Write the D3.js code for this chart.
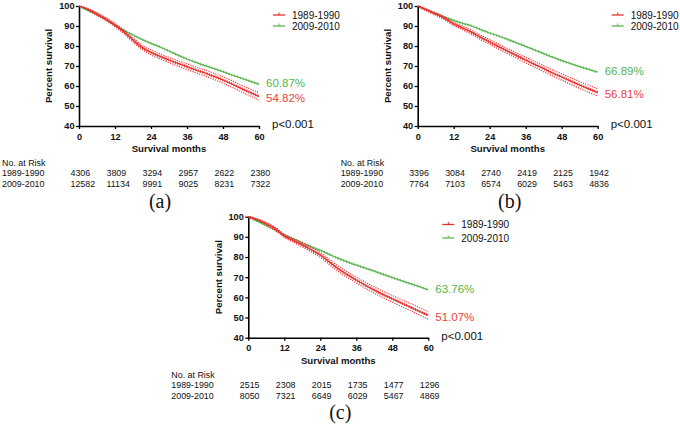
<!DOCTYPE html>
<html><head><meta charset="utf-8">
<script src="https://cdn.jsdelivr.net/npm/d3@7"></script>
<style>
body{margin:0;background:#fff}
svg{display:block}
</style>
</head><body>
<svg id="chart" width="680" height="425"></svg>
<script>
// ---------- data ----------
const months = [0,3,6,9,12,15,18,21,24,27,30,33,36,39,42,45,48,51,54,57,60];
const xTicks = [0,12,24,36,48,60];
const yTicks = [40,50,60,70,80,90,100];
const seriesNames = ["1989-1990","2009-2010"];
const riskTimes = [0,12,24,36,48,60];

// panel (a)
const redA   = [100,98.3,96,93.5,90.5,87,83,79.3,76.8,74.8,73,71.3,69.7,68,66.5,64.8,63,61,58.8,56.8,54.82];
const greenA = [100,97.8,95.5,93,90.3,87.8,85.5,83.3,81.3,79.5,77.5,75.4,73.5,71.8,70.2,68.7,67.2,65.5,64,62.4,60.87];
const ciA    = [0,0.35,0.6,0.7,0.8,0.9,1.0,1.1,1.2,1.25,1.3,1.35,1.4,1.45,1.5,1.55,1.6,1.65,1.7,1.75,1.8];
const riskA1989 = [4306,3809,3294,2957,2622,2380];
const riskA2009 = [12582,11134,9991,9025,8231,7322];
const endA = ["54.82%","60.87%"];

// panel (b)
const redB   = [100,98,96,93.8,91,89,86.8,84.3,82,79.7,77.4,75.2,73,70.8,68.7,66.5,64.5,62.5,60.5,58.6,56.81];
const greenB = [100,98,96.2,94.5,92.8,91.3,90,88.2,86.5,85,83.3,81.5,79.8,78,76.2,74.4,72.7,71.2,69.7,68.3,66.89];
const ciB    = [0,0.35,0.6,0.7,0.8,0.9,1.0,1.1,1.2,1.25,1.3,1.35,1.4,1.45,1.5,1.55,1.6,1.65,1.7,1.75,1.8];
const riskB1989 = [3396,3084,2740,2419,2125,1942];
const riskB2009 = [7764,7103,6574,6029,5463,4836];
const endB = ["56.81%","66.89%"];

// panel (c)
const redC   = [100,98.5,96.5,94,90.5,88.3,86,83.6,81,77.6,74.2,71.3,68.6,66,63.6,61.4,59.3,57.2,55.2,53.1,51.07];
const greenC = [100,97.8,95.6,93.3,91,89,87.1,85.2,83.3,81.3,79.3,77.6,76,74.5,73,71.4,69.8,68.3,66.8,65.3,63.76];
const ciC    = [0,0.35,0.6,0.7,0.8,0.9,1.0,1.1,1.2,1.3,1.35,1.4,1.45,1.5,1.55,1.6,1.65,1.7,1.75,1.8,1.85];
const riskC1989 = [2515,2308,2015,1735,1477,1296];
const riskC2009 = [8050,7321,6649,6029,5467,4869];
const endC = ["51.07%","63.76%"];

const captions = ["(a)","(b)","(c)"];

// ---------- layout ----------
const RED = "#e8302e", GREEN = "#5cb552";
const RED_TXT = "#e8443c", GREEN_TXT = "#56b44e";
const SANS = "'Liberation Sans', Arial, Helvetica, sans-serif";
const SERIF = "'Liberation Serif', 'Times New Roman', serif";

const panels = [
  {cap:captions[0], red:redA, green:greenA, ci:ciA, risk:[riskA1989,riskA2009], end:endA,
   x0:79, y100:6, y40:126, legY:[15,26], capDx:81},
  {cap:captions[1], red:redB, green:greenB, ci:ciB, risk:[riskB1989,riskB2009], end:endB,
   x0:417.7, y100:6, y40:126, legY:[15,26], capDx:92},
  {cap:captions[2], red:redC, green:greenC, ci:ciC, risk:[riskC1989,riskC2009], end:endC,
   x0:248.3, y100:216.7, y40:337.7, legY:[224.5,238], capDx:92}
];

const svg = d3.select("#chart");

function drawCurve(g, pts, color, x, y, tickH, spacing, width){
  const line = d3.line().x(d=>x(d[0])).y(d=>y(d[1])).curve(d3.curveMonotoneX);
  const path = g.append("path").attr("d", line(pts))
    .attr("fill","none").attr("stroke",color).attr("stroke-width",width);
  const node = path.node();
  const L = node.getTotalLength();
  const ticks = [];
  for(let s=spacing; s<L; s+=spacing){ ticks.push(node.getPointAtLength(s)); }
  g.append("g").selectAll("line").data(ticks).join("line")
    .attr("x1",d=>d.x).attr("x2",d=>d.x)
    .attr("y1",d=>d.y-tickH/2).attr("y2",d=>d.y+tickH/2)
    .attr("stroke",color).attr("stroke-width",0.9);
}

function txt(g){ return g.append("text").style("font-family",SANS).attr("fill","#111"); }

panels.forEach(p=>{
  const x = d3.scaleLinear().domain([0,60]).range([p.x0, p.x0+180]);
  const y = d3.scaleLinear().domain([40,100]).range([p.y40, p.y100]);
  const g = svg.append("g");

  // axes
  const ya = g.append("g").attr("transform",`translate(${p.x0},0)`)
    .call(d3.axisLeft(y).tickValues(yTicks).tickSize(3).tickSizeOuter(0).tickPadding(1.5));
  const xa = g.append("g").attr("transform",`translate(0,${p.y40})`)
    .call(d3.axisBottom(x).tickValues(xTicks).tickSize(3).tickSizeOuter(0).tickPadding(4));
  [ya,xa].forEach(a=>{
    a.select(".domain").attr("stroke","#000").attr("stroke-width",1.6);
    a.selectAll(".tick line").attr("stroke","#000").attr("stroke-width",1.3);
    a.selectAll(".tick text").style("font-family",SANS)
      .attr("font-size",9.2).attr("font-weight","bold").attr("fill","#111");
  });

  // axis titles
  txt(g).attr("x",p.x0+90).attr("y",p.y40+23).attr("dy","0.35em")
    .attr("text-anchor","middle").attr("font-size",9.6).attr("font-weight","bold")
    .text("Survival months");
  txt(g).attr("transform",`translate(${p.x0-30},${(p.y40+p.y100)/2}) rotate(-90)`)
    .attr("dy","0.35em").attr("text-anchor","middle").attr("font-size",9.6)
    .attr("font-weight","bold").text("Percent survival");

  // curves
  const gPts = months.map((m,i)=>[m,p.green[i]]);
  const rPts = months.map((m,i)=>[m,p.red[i]]);
  const loPts = months.map((m,i)=>[m,p.red[i]-p.ci[i]]);
  const hiPts = months.map((m,i)=>[m,p.red[i]+p.ci[i]]);
  drawCurve(g, gPts, GREEN, x, y, 2.6, 3, 1.3);
  [loPts,hiPts].forEach(pts=>{
    g.append("path").attr("d", d3.line().x(d=>x(d[0])).y(d=>y(d[1])).curve(d3.curveMonotoneX)(pts))
      .attr("fill","none").attr("stroke",RED).attr("stroke-width",1.2)
      .attr("stroke-dasharray","1.1,1.3");
  });
  drawCurve(g, rPts, RED, x, y, 3.0, 2.4, 1.3);

  // end labels
  const rEnd = p.red[p.red.length-1], gEnd = p.green[p.green.length-1];
  txt(g).attr("x",p.x0+187).attr("y",y(gEnd)-0.8).attr("dy","0.35em")
    .attr("font-size",11.5).attr("fill",GREEN_TXT).text(p.end[1]);
  txt(g).attr("x",p.x0+187).attr("y",y(rEnd)+1.3).attr("dy","0.35em")
    .attr("font-size",11.5).attr("fill",RED_TXT).text(p.end[0]);
  txt(g).attr("x",p.x0+193).attr("y",p.y40-2).attr("dy","0.35em")
    .attr("font-size",11.5).text("p<0.001");

  // legend
  [[RED,seriesNames[0]],[GREEN,seriesNames[1]]].forEach((d,i)=>{
    const ly = p.legY[i];
    g.append("line").attr("x1",p.x0+194).attr("x2",p.x0+206).attr("y1",ly).attr("y2",ly)
      .attr("stroke",d[0]).attr("stroke-width",1.3);
    g.append("line").attr("x1",p.x0+200).attr("x2",p.x0+200).attr("y1",ly-2.5).attr("y2",ly)
      .attr("stroke",d[0]).attr("stroke-width",1);
    txt(g).attr("x",p.x0+213).attr("y",ly).attr("dy","0.35em")
      .attr("font-size",10).text(d[1]);
  });

  // risk table
  const tx = p.x0-77;
  txt(g).attr("x",tx).attr("y",p.y40+36.7).attr("dy","0.35em")
    .attr("font-size",8.9).text("No. at Risk");
  seriesNames.forEach((nm,i)=>{
    const ry = p.y40+47+i*10.7;
    txt(g).attr("x",tx).attr("y",ry).attr("dy","0.35em")
      .attr("font-size",8.9).text(nm);
    g.append("g").selectAll("text").data(p.risk[i]).join("text")
      .style("font-family",SANS).attr("fill","#111")
      .attr("x",(d,j)=>x(riskTimes[j])-8.5).attr("y",ry).attr("dy","0.35em")
      .attr("font-size",8.9).text(d=>d);
  });

  // caption
  g.append("text").attr("x",p.x0+p.capDx).attr("y",p.y40+75).attr("dy","0.33em")
    .attr("text-anchor","middle").style("font-family",SERIF)
    .attr("font-size",20).attr("fill","#111").text(p.cap);
});
</script>
</body></html>
